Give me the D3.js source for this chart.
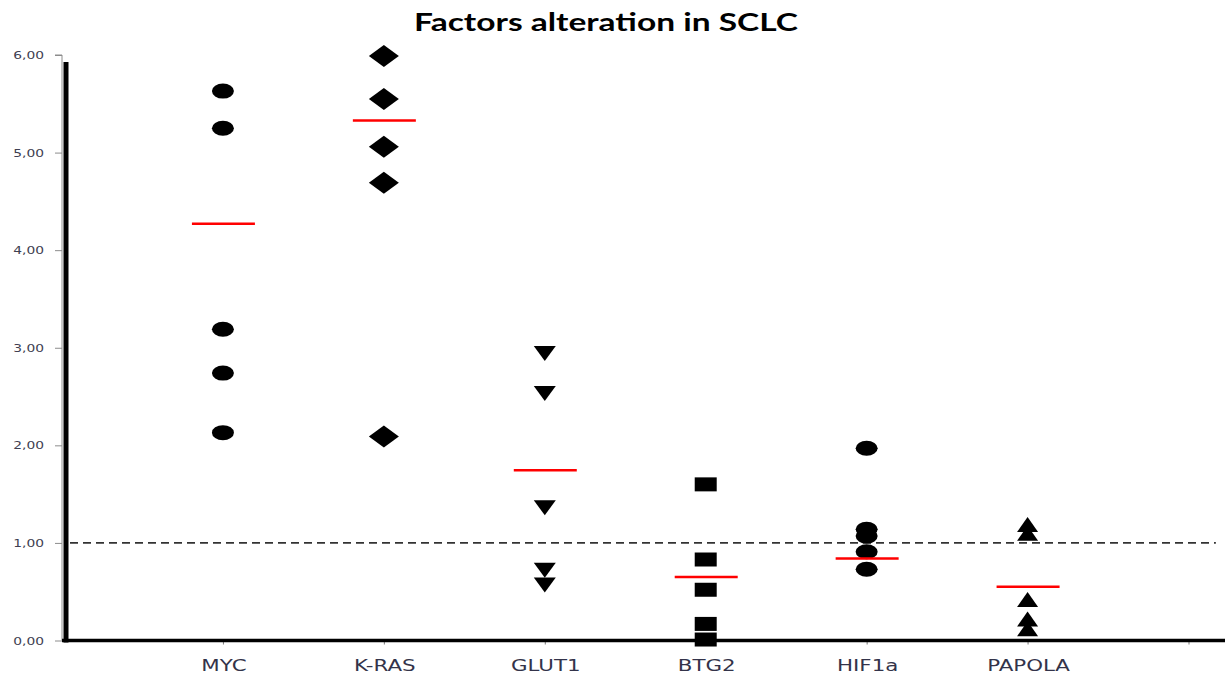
<!DOCTYPE html>
<html>
<head>
<meta charset="utf-8">
<script src="https://cdn.jsdelivr.net/npm/d3@7"></script>
<style>
  html, body { margin: 0; padding: 0; background: #ffffff; }
  svg { display: block; }
</style>
</head>
<body>
<svg id="chart" width="1225" height="675"></svg>
<script>
// ---- data ----
const categories = ["MYC", "K-RAS", "GLUT1", "BTG2", "HIF1a", "PAPOLA"];
const shapes = ["circle", "diamond", "triangleDown", "square", "circle", "triangleUp"];
const valuesMYC    = [5.63, 5.25, 3.19, 2.74, 2.13];
const valuesKRAS   = [5.99, 5.55, 5.06, 4.69, 2.09];
const valuesGLUT1  = [2.94, 2.53, 1.36, 0.72, 0.57];
const valuesBTG2   = [1.60, 0.83, 0.52, 0.17, 0.01];
const valuesHIF1a  = [1.97, 1.14, 1.07, 0.91, 0.73];
const valuesPAPOLA = [1.19, 1.10, 0.42, 0.22, 0.12];
const meanValues   = [4.27, 5.33, 1.745, 0.65, 0.84, 0.55];
const yTicks = [0, 1, 2, 3, 4, 5, 6];
const referenceLevel = 1.0;
const titleText = "Factors alteration in SCLC";

const seriesValues = [valuesMYC, valuesKRAS, valuesGLUT1, valuesBTG2, valuesHIF1a, valuesPAPOLA];

// ---- layout ----
const svg = d3.select("#chart");
const STRETCH = 1.38; // horizontal text stretch of the reference
const x = d3.scaleLinear().domain([0, 7]).range([62, 1188.5]);
const y = d3.scaleLinear().domain([0, 6]).range([640.5, 55]);
const fmt = v => d3.format(".2f")(v).replace(".", ",");

// title
svg.append("text")
  .attr("x", 606).attr("y", 31)
  .attr("text-anchor", "middle")
  .attr("font-family", "Lato, 'Open Sans', sans-serif")
  .attr("font-weight", "bold")
  .attr("font-size", 24)
  .attr("textLength", 384)
  .attr("lengthAdjust", "spacingAndGlyphs")
  .attr("fill", "#000")
  .text(titleText);

// y axis (thin gray line with ticks)
const yAxis = d3.axisLeft(y).tickValues(yTicks).tickSize(7).tickFormat(fmt);
const gy = svg.append("g").attr("transform", `translate(${x(0)},0)`).call(yAxis);
gy.select(".domain").attr("stroke", "#8c8c8c").attr("stroke-width", 1).attr("d", `M-7,${y(6)}H0V${y(0)}`);
gy.selectAll(".tick line").attr("stroke", "#8c8c8c");
gy.selectAll(".tick text")
  .attr("font-family", "'DejaVu Sans', Verdana, sans-serif")
  .attr("font-size", 10)
  .attr("fill", "#3f3f52")
  .attr("x", null).attr("dy", null)
  .attr("text-anchor", "end")
  .attr("transform", `translate(-18,3.5) scale(${STRETCH},1)`);

// x axis with ticks at category positions
const xAxis = d3.axisBottom(x).tickValues([1, 2, 3, 4, 5, 6, 7]).tickSize(4).tickFormat("");
const gx = svg.append("g").attr("transform", `translate(0,${y(0)})`).call(xAxis);
gx.select(".domain").remove();
gx.selectAll(".tick line").attr("stroke", "#7a7a7a");

// thick black axes
svg.append("line")
  .attr("x1", x(0) + 4).attr("x2", x(0) + 4)
  .attr("y1", y(6) + 7).attr("y2", y(0) + 2)
  .attr("stroke", "#000").attr("stroke-width", 5);
svg.append("line")
  .attr("x1", x(0)).attr("x2", 1225)
  .attr("y1", y(0)).attr("y2", y(0))
  .attr("stroke", "#000").attr("stroke-width", 3.5);

// x labels
svg.append("g").selectAll("text")
  .data(categories)
  .join("text")
  .attr("transform", (d, i) => `translate(${x(i + 1) + 1},671) scale(${STRETCH},1)`)
  .attr("text-anchor", "middle")
  .attr("font-family", "'DejaVu Sans', Verdana, sans-serif")
  .attr("font-size", 15.5)
  .attr("fill", "#33334a")
  .text(d => d);

// dashed reference line
svg.append("line")
  .attr("x1", x(0) + 8).attr("x2", x(7.17))
  .attr("y1", y(referenceLevel)).attr("y2", y(referenceLevel))
  .attr("stroke", "#333").attr("stroke-width", 1.6)
  .attr("stroke-dasharray", "8,5");

// marker path generators (stretched shapes)
function markerPath(shape) {
  switch (shape) {
    case "diamond": return "M0,-11L15,0L0,11L-15,0Z";
    case "square": return "M-11,-7H11V7H-11Z";
    case "triangleDown": return "M-11,-7.5H11L0,7.5Z";
    case "triangleUp": return "M0,-7.5L10.5,7.5H-10.5Z";
    default: return null;
  }
}

// points
const points = [];
seriesValues.forEach((vals, i) => vals.forEach(v => points.push({ i, v, shape: shapes[i] })));
const gp = svg.append("g");
gp.selectAll("ellipse")
  .data(points.filter(p => p.shape === "circle"))
  .join("ellipse")
  .attr("cx", d => x(d.i + 1)).attr("cy", d => y(d.v))
  .attr("rx", 11).attr("ry", 7.5)
  .attr("fill", "#000");
gp.selectAll("path")
  .data(points.filter(p => p.shape !== "circle"))
  .join("path")
  .attr("transform", d => `translate(${x(d.i + 1)},${y(d.v)})`)
  .attr("d", d => markerPath(d.shape))
  .attr("fill", "#000");

// mean lines
svg.append("g").selectAll("line")
  .data(meanValues)
  .join("line")
  .attr("x1", (d, i) => x(i + 1) - 31).attr("x2", (d, i) => x(i + 1) + 32)
  .attr("y1", d => y(d)).attr("y2", d => y(d))
  .attr("stroke", "#ff0000").attr("stroke-width", 2.5);
</script>
</body>
</html>
